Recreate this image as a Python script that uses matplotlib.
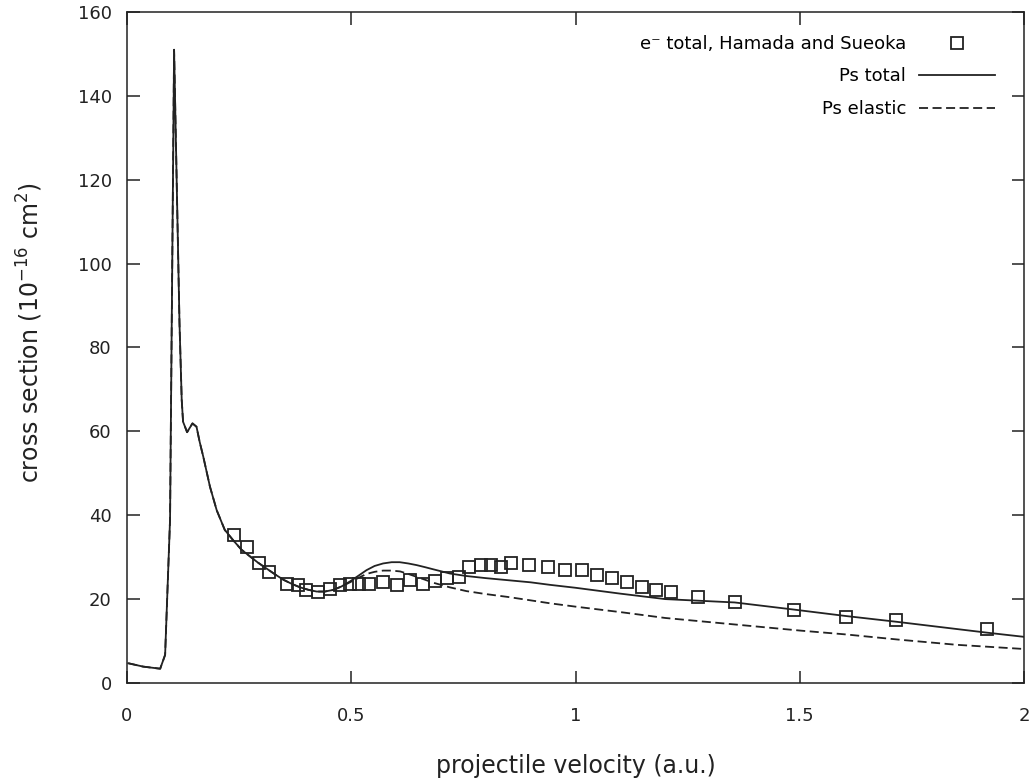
import numpy as np
import matplotlib
matplotlib.use('Agg')
import matplotlib.pyplot as plt

# e- total cross section, Hamada and Sueoka
exp_v = [0.238, 0.268, 0.294, 0.317, 0.357, 0.381, 0.399, 0.425, 0.452, 0.474,
         0.497, 0.518, 0.539, 0.571, 0.602, 0.632, 0.661, 0.687, 0.713, 0.740,
         0.763, 0.789, 0.811, 0.833, 0.857, 0.897, 0.938, 0.976, 1.015, 1.047,
         1.082, 1.115, 1.149, 1.179, 1.212, 1.272, 1.355, 1.487, 1.602, 1.715,
         1.917]
exp_cs = [35.3, 32.5, 28.5, 26.5, 23.6, 23.4, 22.2, 21.7, 22.5, 23.3,
          23.7, 23.7, 23.7, 24.1, 23.3, 24.5, 23.7, 24.2, 25.0, 25.3,
          27.7, 28.1, 28.1, 27.7, 28.5, 28.1, 27.7, 26.9, 26.9, 25.8,
          25.0, 24.1, 23.0, 22.2, 21.8, 20.6, 19.3, 17.4, 15.7, 15.0,
          12.9]

# Ps total
tot_v = [0.003, 0.036, 0.074, 0.085, 0.096, 0.105, 0.117, 0.122, 0.125, 0.134,
         0.146, 0.155, 0.162, 0.170, 0.185, 0.200, 0.218, 0.237, 0.255, 0.274,
         0.292, 0.311, 0.330, 0.349, 0.368, 0.386, 0.405, 0.423, 0.441, 0.460,
         0.478, 0.497, 0.515, 0.534, 0.552, 0.571, 0.590, 0.608, 0.627, 0.646,
         0.665, 0.683, 0.720, 0.757, 0.80, 0.85, 0.90, 0.943, 1.0, 1.1,
         1.2, 1.355, 1.487, 1.6, 1.715, 1.917, 2.0]
tot_cs = [4.7, 3.9, 3.4, 6.7, 39.0, 151.0, 86.0, 67.5, 62.3, 59.8,
          61.9, 61.1, 57.5, 54.0, 46.8, 41.2, 36.5, 34.0, 31.8, 30.2,
          28.7, 27.3, 25.9, 24.6, 23.6, 22.8, 22.2, 21.8, 21.8, 22.2,
          23.0, 24.2, 25.5, 26.9, 27.9, 28.5, 28.8, 28.8, 28.5, 28.1,
          27.6, 27.1, 26.1, 25.5, 25.0, 24.5, 24.0, 23.4, 22.7, 21.3,
          20.0, 19.2, 17.5, 16.0, 14.6, 12.0, 11.0]

# Ps elastic
el_v = [0.003, 0.036, 0.074, 0.085, 0.096, 0.105, 0.117, 0.122, 0.125, 0.134,
        0.146, 0.155, 0.162, 0.170, 0.185, 0.200, 0.218, 0.237, 0.255, 0.274,
        0.292, 0.311, 0.330, 0.349, 0.368, 0.386, 0.405, 0.423, 0.441, 0.460,
        0.478, 0.497, 0.515, 0.534, 0.552, 0.571, 0.590, 0.609, 0.627, 0.646,
        0.665, 0.683, 0.720, 0.757, 0.80, 0.85, 0.90, 0.943, 1.0, 1.1,
        1.2, 1.3, 1.4, 1.5, 1.6, 1.724, 1.85, 2.0]
el_cs = [4.7, 3.9, 3.4, 6.7, 39.0, 151.0, 86.0, 67.5, 62.3, 59.8,
         61.9, 61.1, 57.5, 54.0, 46.8, 41.2, 36.5, 34.0, 31.8, 30.2,
         28.7, 27.3, 25.9, 24.6, 23.6, 22.8, 22.2, 21.8, 21.8, 22.2,
         23.0, 24.0, 25.0, 26.0, 26.5, 26.8, 26.8, 26.6, 26.0, 25.3,
         24.6, 23.9, 22.8, 21.9, 21.2, 20.5, 19.7, 19.0, 18.2, 16.9,
         15.5, 14.5, 13.5, 12.5, 11.6, 10.3, 9.1, 8.1]

plt.rcParams['font.family'] = 'DejaVu Sans'
plt.rcParams['mathtext.default'] = 'regular'
col = '#222222'

fig = plt.figure(figsize=(10.35, 7.8), dpi=100)
ax = fig.add_axes([0.1227, 0.1244, 0.8667, 0.8602])

ax.plot(exp_v, exp_cs, ls='none', marker='s', ms=9, mfc='none', mec=col, mew=1.3,
        label='e\u207b total, Hamada and Sueoka')
ax.plot(tot_v, tot_cs, color=col, lw=1.3, label='Ps total')
ax.plot(el_v, el_cs, color=col, lw=1.3, ls=(0, (5, 2.5)), label='Ps elastic')

ax.set_xlim(0, 2)
ax.set_ylim(0, 160)
ax.set_xticks([0, 0.5, 1, 1.5, 2])
ax.set_xticklabels(['0', '0.5', '1', '1.5', '2'])
ax.set_yticks(range(0, 161, 20))
ax.tick_params(direction='in', length=9, width=1.1, colors=col, labelsize=13,
               top=True, right=True)
ax.tick_params(axis='x', pad=17)
ax.tick_params(axis='y', pad=11)
for s in ax.spines.values():
    s.set_linewidth(1.1)
    s.set_color(col)

ax.set_xlabel('projectile velocity (a.u.)', fontsize=17, color=col)
ax.set_ylabel('cross section (10$^{-16}$ cm$^{2}$)', fontsize=17, color=col)
ax.xaxis.set_label_coords(0.5, -0.106)
ax.yaxis.set_label_coords(-0.091, 0.522)

ax.legend(loc='upper right', bbox_to_anchor=(0.968, 0.966), frameon=False,
          markerfirst=False, fontsize=13, handlelength=4.2, handletextpad=0.75,
          labelspacing=0.81, borderpad=0, borderaxespad=0)

fig.savefig('out.png', dpi=100)
